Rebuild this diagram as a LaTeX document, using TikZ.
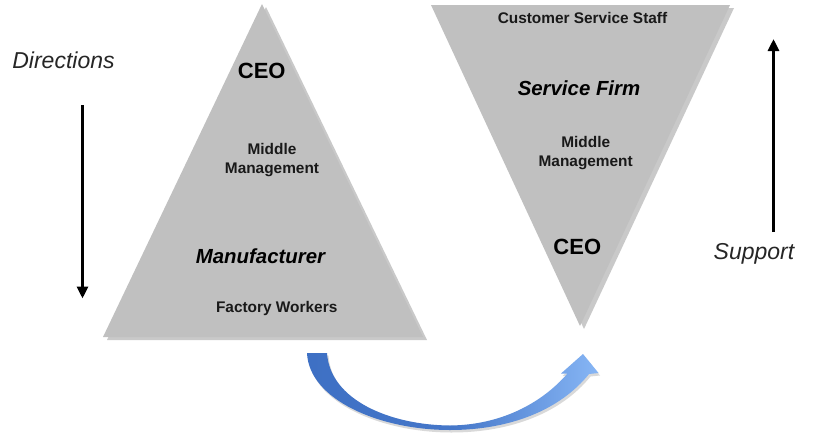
\documentclass[tikz,border=0pt]{standalone}
\usepackage{fontspec}
\setmainfont{Liberation Sans}
\usetikzlibrary{arrows.meta,shadows}
\definecolor{trigray}{RGB}{192,192,192}
\definecolor{arrowdark}{RGB}{62,112,196}
\definecolor{arrowlight}{RGB}{135,182,245}
\tikzset{
  tri/.style={fill=trigray, draw=none, drop shadow={shadow xshift=4pt, shadow yshift=-3pt, opacity=0.35, fill=black!60}},
  lbl/.style={font=\bfseries\fontsize{15.4}{18.7}\selectfont, align=center, text=black!90, inner sep=0pt},
  big/.style={font=\bfseries\fontsize{22}{24}\selectfont, inner sep=0pt},
  firm/.style={font=\bfseries\itshape\fontsize{20.4}{24}\selectfont, inner sep=0pt},
  side/.style={font=\itshape\fontsize{23}{26}\selectfont, text=black!85, inner sep=0pt},
  dirarrow/.style={line width=3pt, -{Triangle[length=12pt,width=11pt]}}
}
\newcommand{\curvearrowpath}{(307,353) .. controls (309,400) and (380,430) .. (450,430)
  .. controls (510,430) and (560,410) .. (589,374)
  -- (598.5,373) -- (583,354) -- (561,373.5) -- (567.5,373.5)
  .. controls (541,404) and (500,425) .. (450,425.5)
  .. controls (390,425) and (330,400) .. (327,353) -- cycle}
\begin{document}
\begin{tikzpicture}[x=1pt,y=-1pt]
\useasboundingbox (0,0) rectangle (840,439);
\fill[white] (0,0) rectangle (840,439);
% triangles
\path[tri] (262,4) -- (423,337) -- (103,337) -- cycle;
\path[tri] (431,5) -- (730,5) -- (580,326) -- cycle;
% left labels
\node[big] (ceoL) at (261.7,70.5) {CEO};
\node[lbl] (midL) at (272,160) {Middle\\Management};
\node[firm] (manu) at (260.5,256.5) {Manufacturer};
\node[lbl] (fact) at (276.7,309) {Factory Workers};
% right labels
\node[lbl] (cust) at (582.5,18.3) {Customer Service Staff};
\node[firm] (serv) at (579,88) {Service Firm};
\node[lbl] (midR) at (585.7,153.3) {Middle\\Management};
\node[big] (ceoR) at (577.3,246.5) {CEO};
% side texts and arrows
\node[side] (dir) at (63.5,60) {Directions};
\node[side] (sup) at (754,254) {Support};
\coordinate (dtop) at (82.5,105);
\coordinate (dbot) at (82.5,298.5);
\coordinate (ubot) at (773.5,232);
\coordinate (utop) at (773.5,39);
\draw[dirarrow] (dtop) -- (dbot);
\draw[dirarrow] (ubot) -- (utop);
% curved blue arrow
\begin{scope}[shift={(1.5,2.5)}]
\fill[black, opacity=0.15] \curvearrowpath;
\end{scope}
\shade[left color=arrowdark, right color=arrowlight, middle color=arrowdark!90!arrowlight]
  \curvearrowpath;
\end{tikzpicture}
\end{document}
